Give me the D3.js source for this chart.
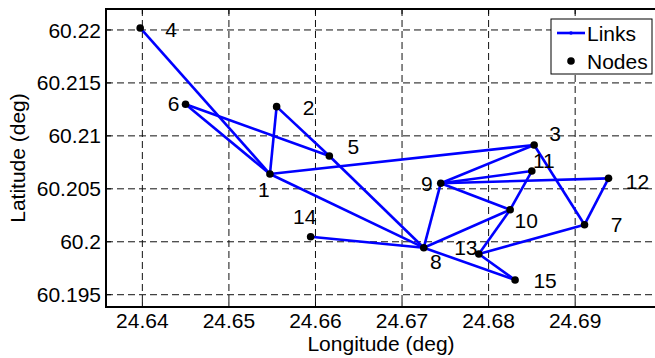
<!DOCTYPE html>
<html>
<head>
<meta charset="utf-8">
<script src="https://cdn.jsdelivr.net/npm/d3@7"></script>
<style>
    body { margin: 0; background: #fff; }
    text { font-family: Arial, "Liberation Sans", sans-serif; fill: #000; }
</style>
</head>
<body>
<script>
// node ids and positions (deg)
var nodeIds = [1, 2, 3, 4, 5, 6, 7, 8, 9, 10, 11, 12, 13, 14, 15];
var lon = [24.65474, 24.65551, 24.68526, 24.63975, 24.6616, 24.64499, 24.69108, 24.67251,
           24.67447, 24.68249, 24.68499, 24.69385, 24.67887, 24.65944, 24.68306];
var lat = [60.2064, 60.21276, 60.20914, 60.22019, 60.2081, 60.21298, 60.20161, 60.19944,
           60.20552, 60.20303, 60.20668, 60.20599, 60.19884, 60.20048, 60.19639];

// links between node ids
var links = [[4, 1], [6, 1], [6, 5], [2, 1], [2, 5], [1, 3], [1, 8], [5, 8], [3, 9], [3, 7],
             [9, 11], [9, 12], [9, 10], [9, 8], [8, 10], [10, 11], [10, 13], [13, 7], [13, 15],
             [8, 15], [12, 7], [14, 8]];

var xTicks = [24.64, 24.65, 24.66, 24.67, 24.68, 24.69];
var yTicks = [60.195, 60.2, 60.205, 60.21, 60.215, 60.22];

// where each node number sits relative to its dot (px)
var labelOffsets = [[-6, 15], [32, 1], [21, -12], [31, 1], [24, -10], [-12, -1], [32, 0], [12, 14],
                    [-14, 0], [16, 11], [12, -11], [29, 3], [-13, -7], [-6, -20], [30, 0]];

var width = 655, height = 358;
var plot = { left: 106, top: 9, right: 660, bottom: 307 };

var svg = d3.select("body").append("svg")
    .attr("width", width)
    .attr("height", height);

var x = d3.scaleLinear()
    .domain([24.6358, 24.6998])
    .range([plot.left, plot.right]);

var y = d3.scaleLinear()
    .domain([60.19384, 60.22198])
    .range([plot.bottom, plot.top]);

var fs = 21;

// grid
svg.append('g').selectAll('line')
    .data(xTicks)
    .enter().append('line')
    .attr('x1', d => x(d)).attr('x2', d => x(d))
    .attr('y1', plot.top).attr('y2', plot.bottom)
    .attr('stroke', '#111').attr('stroke-width', 1)
    .attr('stroke-dasharray', '7,4');

svg.append('g').selectAll('line')
    .data(yTicks)
    .enter().append('line')
    .attr('x1', plot.left).attr('x2', plot.right)
    .attr('y1', d => y(d)).attr('y2', d => y(d))
    .attr('stroke', '#111').attr('stroke-width', 1)
    .attr('stroke-dasharray', '7,4');

// links
var idx = id => nodeIds.indexOf(id);

svg.append('g').selectAll('line')
    .data(links)
    .enter().append('line')
    .attr('x1', d => x(lon[idx(d[0])]))
    .attr('y1', d => y(lat[idx(d[0])]))
    .attr('x2', d => x(lon[idx(d[1])]))
    .attr('y2', d => y(lat[idx(d[1])]))
    .attr('stroke', '#0000ff')
    .attr('stroke-width', 2.6);

// nodes
svg.append('g').selectAll('circle')
    .data(nodeIds)
    .enter().append('circle')
    .attr('cx', (d, i) => x(lon[i]))
    .attr('cy', (d, i) => y(lat[i]))
    .attr('r', 3.8)
    .attr('fill', '#000');

// node numbers
svg.append('g').selectAll('text')
    .data(nodeIds)
    .enter().append('text')
    .attr('x', (d, i) => x(lon[i]) + labelOffsets[i][0])
    .attr('y', (d, i) => y(lat[i]) + labelOffsets[i][1])
    .attr('dy', '0.36em')
    .style('text-anchor', 'middle')
    .style('font-size', fs + 'px')
    .text(d => d);

// box + ticks
svg.append('rect')
    .attr('x', plot.left).attr('y', plot.top)
    .attr('width', plot.right - plot.left)
    .attr('height', plot.bottom - plot.top)
    .attr('fill', 'none')
    .attr('stroke', '#000')
    .attr('stroke-width', 2);

var tk = 5;
xTicks.forEach(t => {
    svg.append('line').attr('x1', x(t)).attr('x2', x(t))
        .attr('y1', plot.bottom).attr('y2', plot.bottom - tk)
        .attr('stroke', '#000');
    svg.append('line').attr('x1', x(t)).attr('x2', x(t))
        .attr('y1', plot.top).attr('y2', plot.top + tk)
        .attr('stroke', '#000');
});
yTicks.forEach(t => {
    svg.append('line').attr('x1', plot.left).attr('x2', plot.left + tk)
        .attr('y1', y(t)).attr('y2', y(t))
        .attr('stroke', '#000');
});

// tick labels
svg.append('g').selectAll('text')
    .data(xTicks)
    .enter().append('text')
    .attr('x', d => x(d))
    .attr('y', 328)
    .style('text-anchor', 'middle')
    .style('font-size', fs + 'px')
    .text(d => d3.format('.2f')(d));

svg.append('g').selectAll('text')
    .data(yTicks)
    .enter().append('text')
    .attr('x', 101)
    .attr('y', d => y(d))
    .attr('dy', '0.36em')
    .style('text-anchor', 'end')
    .style('font-size', fs + 'px')
    .text(d => d3.format('')(+d.toFixed(3)));

// axis titles
svg.append('text')
    .attr('x', 381)
    .attr('y', 351)
    .style('text-anchor', 'middle')
    .style('font-size', fs + 'px')
    .text('Longitude (deg)');

svg.append('text')
    .attr('transform', 'translate(25,' + (plot.top + plot.bottom) / 2 + ') rotate(-90)')
    .style('text-anchor', 'middle')
    .style('font-size', fs + 'px')
    .text('Latitude (deg)');

// legend
var lg = svg.append('g');
lg.append('rect')
    .attr('x', 551).attr('y', 19)
    .attr('width', 101).attr('height', 55)
    .attr('fill', '#fff')
    .attr('stroke', '#000')
    .attr('stroke-width', 1);
lg.append('line')
    .attr('x1', 557).attr('x2', 585)
    .attr('y1', 33).attr('y2', 33)
    .attr('stroke', '#0000ff').attr('stroke-width', 2.6);
lg.append('circle')
    .attr('cx', 571).attr('cy', 33).attr('r', 1.8)
    .attr('fill', '#0000ff');
lg.append('text')
    .attr('x', 587).attr('y', 33).attr('dy', '0.36em')
    .style('font-size', fs + 'px')
    .text('Links');
lg.append('circle')
    .attr('cx', 571).attr('cy', 61).attr('r', 3.8)
    .attr('fill', '#000');
lg.append('text')
    .attr('x', 587).attr('y', 61).attr('dy', '0.36em')
    .style('font-size', fs + 'px')
    .text('Nodes');
</script>
</body>
</html>
